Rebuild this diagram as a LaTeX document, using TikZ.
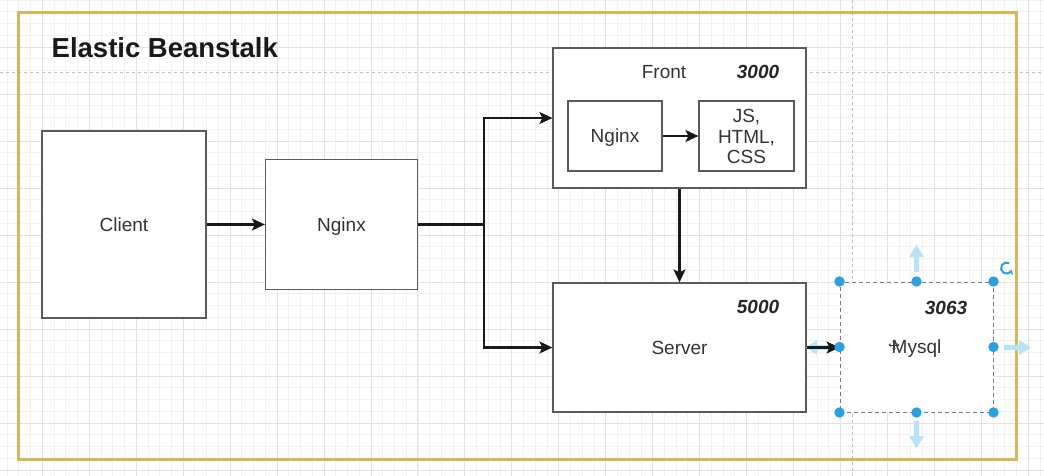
\documentclass[tikz,border=0pt]{standalone}
\usepackage{fontspec}
\setmainfont{Liberation Sans}
\usetikzlibrary{arrows.meta}
\definecolor{gold}{RGB}{214,182,86}
\definecolor{boxgray}{RGB}{90,90,90}
\definecolor{txt}{RGB}{51,51,51}
\definecolor{minorg}{RGB}{242,242,242}
\definecolor{majorg}{RGB}{226,226,226}
\definecolor{pagebrk}{RGB}{192,192,192}
\definecolor{handleblue}{RGB}{41,160,226}
\definecolor{hintblue}{RGB}{184,226,248}
\tikzset{
  lblfont/.style={font=\fontsize{19}{20.5}\selectfont},
  box/.style={draw=boxgray, line width=1.2pt, fill=white, rectangle, inner sep=0pt,
    lblfont, text=txt, text height=13.7pt, text depth=0pt},
  plainbox/.style={draw=boxgray, line width=1.2pt, fill=white, rectangle, inner sep=0pt},
  lbl/.style={lblfont, text=txt, inner sep=0pt, text height=13.7pt, text depth=0pt},
  num/.style={font=\bfseries\itshape\fontsize{19}{20.5}\selectfont, text=black!85, inner sep=0pt,
    text height=13.7pt, text depth=0pt},
  conn/.style={draw=black!90, line width=2.2pt},
  arr/.style={conn, -{Stealth[length=13pt,width=12pt,inset=3pt]}},
  minorline/.style={draw=minorg, line width=0.8pt},
  majorline/.style={draw=majorg, line width=0.9pt},
  pagebreak/.style={draw=pagebrk, line width=0.9pt, dash pattern=on 3pt off 3pt},
  handle/.style={fill=handleblue},
  hint/.style={fill=hintblue},
}
\begin{document}
\begin{tikzpicture}[x=1pt,y=-1pt]
\useasboundingbox (0,0) rectangle (1044,476);
\fill[white] (0,0) rectangle (1044,476);
% grid
\foreach \i in {0,...,88} \draw[minorline] ({7.09+\i*11.7375},0) -- ({7.09+\i*11.7375},476);
\foreach \i in {0,...,40} \draw[minorline] (0,{\i*11.75}) -- (1044,{\i*11.75});
\foreach \i in {0,...,21} \draw[majorline] ({42.3+\i*46.95},0) -- ({42.3+\i*46.95},476);
\foreach \i in {1,...,10} \draw[majorline] (0,{\i*47}) -- (1044,{\i*47});
% page breaks
\draw[pagebreak] (0,72) -- (1044,72);
\draw[pagebreak] (852,0) -- (852,476);
% frame
\draw[gold, line width=3pt] (18,13) rectangle (1016,459);
\node[anchor=base west, font=\bfseries\fontsize{27.5}{30}\selectfont, text=black!90, inner sep=0pt] (title) at (51.5,58) {Elastic Beanstalk};
% nodes
\node[box, minimum width=164pt, minimum height=187pt] (client) at (124,224.5) {Client};
\node[box, minimum width=152pt, minimum height=130pt] (nginx) at (341.5,224.5) {Nginx};
\node[plainbox, minimum width=253pt, minimum height=140pt] (front) at (679.5,118) {};
\node[lbl] (fronttxt) at (664,72) {Front};
\node[num] (p3000) at (758,72) {3000};
\node[box, minimum width=94pt, minimum height=70pt] (fnginx) at (615,136) {Nginx};
\node[plainbox, minimum width=95pt, minimum height=70pt] (js) at (746.5,136) {};
\node[lblfont, text=txt, align=center, inner sep=0pt] (jstxt) at (746.5,136.5) {JS,\\HTML,\\CSS};
\node[box, minimum width=253pt, minimum height=129pt] (server) at (679.5,347.5) {Server};
\node[num] (p5000) at (758,307) {5000};
% hint arrow (behind)
\fill[hint] (806,347.5) -- (817,340) -- (817,345) -- (832,345) -- (832,350) -- (817,350) -- (817,355) -- cycle;
\node[box, draw=boxgray!80, line width=1pt, dash pattern=on 4pt off 3pt, minimum width=153pt, minimum height=130pt] (mysql) at (916.5,347) {Mysql};
\node[num] (p3063) at (946,308) {3063};
% connectors
\draw[arr] (client.east) -- (client.east -| nginx.west);
\coordinate (fork) at (484,224.5);
\draw[conn] (nginx.east) -- (fork);
\draw[arr] (fork) |- (front.west);
\draw[arr] (fork) |- (server.west);
\draw[arr] (fnginx.east) -- (js.west);
\draw[arr] (front.south) -- (server.north);
\draw[arr] (server.east) -- (server.east -| mysql.west);
% selection decorations
\fill[hint] (916.5,245) -- (924,257) -- (919,257) -- (919,272) -- (914,272) -- (914,257) -- (909,257) -- cycle;
\fill[hint] (916.5,448) -- (924,436) -- (919,436) -- (919,421) -- (914,421) -- (914,436) -- (909,436) -- cycle;
\fill[hint] (1031,347.5) -- (1019,340) -- (1019,345) -- (1004,345) -- (1004,350) -- (1019,350) -- (1019,355) -- cycle;
\foreach \a in {north west,north,north east,east,south east,south,south west,west}
  \fill[handle] (mysql.\a) circle (5.2pt);
\draw[handleblue, line width=2pt, -{Stealth[length=4.5pt,width=6pt]}]
  (1006.5,268) ++(60:5.5pt) arc[start angle=60, end angle=340, radius=5.5pt];
% move cursor
\draw[black!75, line width=1pt, {Stealth[length=2.5pt,width=3.5pt]}-{Stealth[length=2.5pt,width=3.5pt]}] (888.5,345) -- (899.5,345);
\draw[black!75, line width=1pt, {Stealth[length=2.5pt,width=3.5pt]}-{Stealth[length=2.5pt,width=3.5pt]}] (894,339.5) -- (894,350.5);
\end{tikzpicture}
\end{document}
